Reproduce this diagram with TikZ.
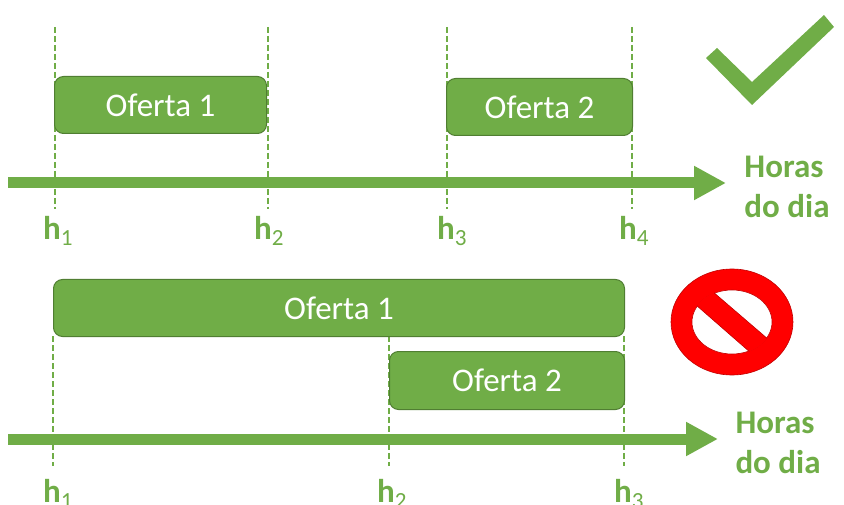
\documentclass[tikz,border=0pt]{standalone}
\usepackage{fontspec}
\setmainfont{Carlito}
\usetikzlibrary{arrows.meta}
\definecolor{ofertagreen}{HTML}{70AD47}
\definecolor{ofertaedge}{HTML}{507E32}
\definecolor{proibidoedge}{HTML}{C00000}
\tikzset{
    oferta/.style = {draw = ofertaedge, line width = 1pt, fill = ofertagreen, rounded corners = 9pt, text = white, font = \fontsize{33}{33}\selectfont, inner sep = 0pt, anchor = north west},
    eixo/.style = {draw = ofertagreen, line width = 11pt, -{Triangle[length = 32pt, width = 32pt]}},
    marca/.style = {draw = ofertagreen, line width = 2pt, dash pattern = on 6pt off 3pt},
    rotulo/.style = {text = ofertagreen, font = \fontsize{33}{33}\selectfont\bfseries, inner sep = 0pt},
}
\newcommand{\hora}[1]{h\textsubscript{\normalfont #1}}
\begin{document}
\begin{tikzpicture}[x = 1pt, y = -1pt]
    \useasboundingbox (0, 0) rectangle (844, 505);
    \clip (0, 0) rectangle (844, 505);
    % acima: ofertas separadas
    \foreach \name/\x in {a/55, b/268, c/447, d/632}
        {
            \coordinate (top\name) at (\x, 27);
            \coordinate (bot\name) at (\x, 209);
            \draw[marca] (top\name) -- (bot\name);
        }
    \node[oferta, minimum width = 212pt, minimum height = 57pt] (of1) at (54, 76) {Oferta 1};
    \node[oferta, minimum width = 186pt, minimum height = 57pt] (of2) at (446, 78) {Oferta 2};
    \coordinate (ini) at (8, 183);
    \coordinate (fim) at (726, 183);
    \draw[eixo] (ini) -- (fim);
    \node[rotulo, align = left] (horas) at (787, 187) {Horas\\[7pt]do dia};
    \node[rotulo] (h1) at (58, 231) {\hora{1}};
    \node[rotulo] (h2) at (269, 231) {\hora{2}};
    \node[rotulo] (h3) at (452, 231) {\hora{3}};
    \node[rotulo] (h4) at (634, 231) {\hora{4}};
    \fill[ofertagreen] (717, 48) -- (752, 82) -- (824, 15) -- (834, 27) -- (752, 105) -- (706, 58) -- cycle;
    % abaixo: ofertas sobrepostas
    \foreach \name/\x in {e/53, f/389, g/624}
        {
            \coordinate (top\name) at (\x, 336);
            \coordinate (bot\name) at (\x, 466);
            \draw[marca] (top\name) -- (bot\name);
        }
    \node[oferta, minimum width = 571pt, minimum height = 57pt] (of3) at (53, 279) {Oferta 1};
    \node[oferta, minimum width = 235pt, minimum height = 58pt] (of4) at (389, 351) {Oferta 2};
    \coordinate (ini2) at (8, 439);
    \coordinate (fim2) at (718, 439);
    \draw[eixo] (ini2) -- (fim2);
    \node[rotulo, align = left] (horas2) at (778, 443) {Horas\\[7pt]do dia};
    \node[rotulo] (h5) at (58, 494) {\hora{1}};
    \node[rotulo] (h6) at (392, 494) {\hora{2}};
    \node[rotulo] (h7) at (629, 494) {\hora{3}};
    \filldraw[fill = red, draw = proibidoedge, line width = 0.6pt] (732, 322) ellipse (61 and 53);
    \filldraw[fill = white, draw = proibidoedge, line width = 0.6pt] (732, 322) ellipse (40 and 32);
    \begin{scope}
        \clip (732, 322) ellipse (40.5 and 32.5);
        \filldraw[fill = red, draw = proibidoedge, line width = 0.6pt] (688, 298) -- (759, 360) -- (776, 346) -- (705, 285) -- cycle;
    \end{scope}
\end{tikzpicture}
\end{document}
